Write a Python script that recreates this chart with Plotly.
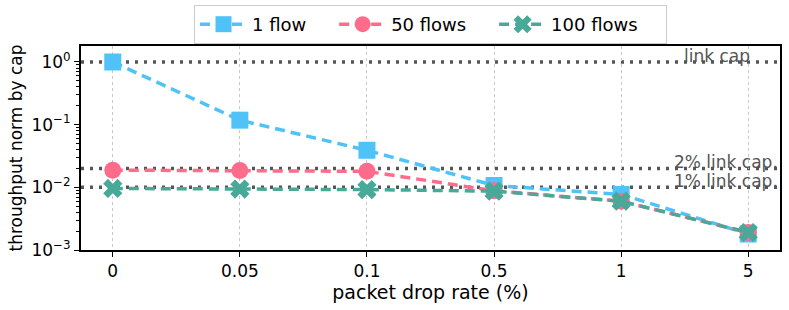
import math
import plotly.graph_objects as go

categories = ["0", "0.05", "0.1", "0.5", "1", "5"]
flow1 = [1.0, 0.118, 0.039, 0.0107, 0.0077, 0.0018]
flow50 = [0.0188, 0.0186, 0.018, 0.0088, 0.006, 0.0019]
flow100 = [0.0096, 0.0094, 0.0092, 0.0087, 0.006, 0.0019]
series_names = ["1 flow", "50 flows", "100 flows"]
cap_values = [1.0, 0.02, 0.01]
cap_labels = ["link cap", "2% link cap.", "1% link cap."]
ytick_vals = [1e-3, 1e-2, 1e-1, 1]
ytick_text = ["10<sup>\u22123</sup>", "10<sup>\u22122</sup>", "10<sup>\u22121</sup>", "10<sup>0</sup>"]

colors = ["#4fc3f7", "#ff6b8b", "#48a999"]
symbols = ["square", "circle", "x"]

pad = "\u00a0" * 4
fig = go.Figure()
for name, vals, c, s in zip(series_names, [flow1, flow50, flow100], colors, symbols):
    fig.add_trace(go.Scatter(
        x=categories, y=vals, name=name + pad, mode="lines+markers",
        line=dict(color=c, width=3.5, dash="10px,6px"),
        marker=dict(symbol=s, size=17, color=c, line=dict(width=0)),
    ))

for v in cap_values:
    fig.add_shape(type="line", xref="paper", x0=0, x1=1, yref="y",
                  y0=v, y1=v,
                  line=dict(color="#555555", width=3.5, dash="3px,6px"), layer="below")

ann_x = [0.96, 1.0, 1.0]
for v, lab, ax in zip(cap_values, cap_labels, ann_x):
    fig.add_annotation(x=ax, xref="paper", y=math.log10(v), yref="y", text=lab,
                       showarrow=False, xanchor="right", yanchor="bottom", yshift=-6,
                       font=dict(size=17, color="#555555"))

minor_vals = [m * 10 ** e for e in [-3, -2, -1] for m in range(2, 10)]

fig.update_layout(
    width=789, height=310,
    margin=dict(l=81, r=9, t=46, b=60, autoexpand=False),
    plot_bgcolor="white", paper_bgcolor="white",
    font=dict(family="DejaVu Sans", size=17, color="black"),
    showlegend=True,
    legend=dict(orientation="h", x=0.5, xanchor="center", xref="paper",
                y=1 - 5 / 310, yanchor="top", yref="container",
                bordercolor="#cccccc", borderwidth=1, font=dict(size=18),
                itemwidth=47, bgcolor="white"),
    xaxis=dict(type="category", range=[-0.25, 5.25], showgrid=True,
               gridcolor="#c8c8c8", griddash="3px,3px", gridwidth=1,
               showline=True, linecolor="black", linewidth=2, mirror=True,
               ticks="outside", ticklen=5, tickcolor="black", automargin=False,
               title=dict(text="packet drop rate (%)", font=dict(size=19), standoff=5),
               tickfont=dict(size=17)),
    yaxis=dict(type="log", range=[-3, 0.255], showgrid=False,
               tickvals=ytick_vals, ticktext=ytick_text,
               showline=True, linecolor="black", linewidth=2, mirror=True,
               ticks="outside", ticklen=5, tickcolor="black", automargin=False,
               minor=dict(tickvals=minor_vals, ticks="outside", ticklen=3, tickcolor="black", showgrid=False),
               title=dict(text="throughput norm by cap", font=dict(size=17), standoff=4),
               tickfont=dict(size=17), zeroline=False),
)

fig.write_html("out.html", config={"displayModeBar": False},
               post_script="document.body.style.margin='0';")
